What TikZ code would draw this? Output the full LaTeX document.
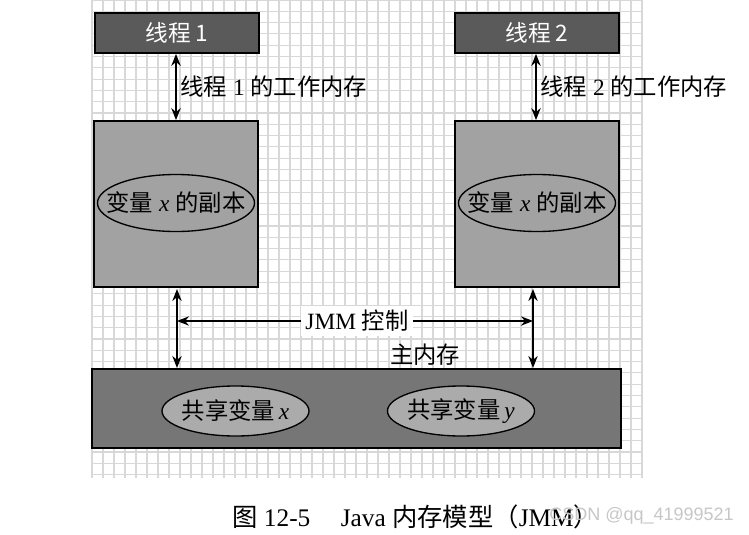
\documentclass[tikz,border=0pt]{standalone}
\usepackage{fontspec}
\setmainfont{Liberation Serif}
\newfontfamily\cjk{Noto Sans CJK SC}
\newfontfamily\wmfont{Liberation Sans}
\usetikzlibrary{arrows.meta,shapes.geometric}
\definecolor{threadgray}{HTML}{5A5A5A}
\definecolor{workgray}{HTML}{A2A2A2}
\definecolor{maingray}{HTML}{767676}
\definecolor{ellgray}{HTML}{ABABAB}
\definecolor{gridgray}{HTML}{D8D8D8}
\tikzset{
  threadbox/.style={draw=black,line width=1.3pt,fill=threadgray,text=white,minimum width=164*0.75pt,minimum height=40*0.75pt,inner sep=0pt,font=\cjk\fontsize{17}{19}\selectfont},
  workbox/.style={draw=black,line width=1.3pt,fill=workgray,minimum width=164*0.75pt,minimum height=166*0.75pt,inner sep=0pt},
  mainbox/.style={draw=black,line width=1.3pt,fill=maingray,minimum width=529*0.75pt,minimum height=79*0.75pt,inner sep=0pt},
  copyell/.style={ellipse,draw=black,line width=1pt,fill=workgray,minimum width=157*0.75pt,minimum height=57*0.75pt,inner sep=0pt},
  sharedell/.style={ellipse,draw=black,line width=1pt,fill=ellgray,minimum width=147*0.75pt,minimum height=50*0.75pt,inner sep=0pt},
  elltext/.style={inner sep=0pt,font=\fontsize{17.5}{19}\selectfont},
  lbl/.style={inner sep=1pt,font=\fontsize{17.5}{19}\selectfont},
  dbl/.style={{Stealth[length=9pt,width=7pt]}-{Stealth[length=9pt,width=7pt]},line width=1.2pt},
  sgl/.style={-{Stealth[length=9pt,width=7pt]},line width=1.2pt},
}
\begin{document}
\begin{tikzpicture}[x=0.75pt,y=-0.75pt]
\useasboundingbox (0,0) rectangle (749,535);
\fill[white] (0,0) rectangle (749,535);
% grid
\foreach \gx in {0,...,50} {\draw[gridgray,line width=0.8pt] (92+\gx*11,0) -- (92+\gx*11,478);}
\foreach \gy in {0,...,42} {\draw[gridgray,line width=0.8pt] (92,\gy*11.3) -- (642,\gy*11.3);}
% thread boxes
\node[threadbox] (t1) at (177,33) {线程 1};
\node[threadbox] (t2) at (537,33) {线程 2};
% working memory boxes
\node[workbox] (w1) at (176,204) {};
\node[workbox] (w2) at (537,204) {};
\node[copyell] (e1) at (176,203) {};
\node[copyell] (e2) at (537,203) {};
\node[elltext] (e1t) at (e1) {{\cjk 变量} \textit{x} {\cjk 的副本}};
\node[elltext] (e2t) at (e2) {{\cjk 变量} \textit{x} {\cjk 的副本}};
% main memory
\node[mainbox] (m) at (356.5,408.5) {};
\node[sharedell] (s1) at (235.5,411) {};
\node[sharedell] (s2) at (461,411) {};
\node[elltext] (s1t) at (s1) {{\cjk 共享变量}\,\textit{x}};
\node[elltext] (s2t) at (s2) {{\cjk 共享变量}\,\textit{y}};
% thread <-> working memory arrows
\draw[dbl] (t1.south -| 176,0) -- (w1.north -| 176,0);
\draw[dbl] (t2.south -| 536,0) -- (w2.north -| 536,0);
\node[lbl,anchor=west] (l1) at (179,87) {{\cjk 线程} 1 {\cjk 的工作内存}};
\node[lbl,anchor=west] (l2) at (539,87) {{\cjk 线程} 2 {\cjk 的工作内存}};
% working memory <-> main memory
\coordinate (v1t) at (177,289);
\coordinate (v1b) at (177,368);
\coordinate (v2t) at (533,289);
\coordinate (v2b) at (533,368);
\draw[dbl] (v1t) -- (v1b);
\draw[dbl] (v2t) -- (v2b);
\coordinate (jl) at (177,321);
\coordinate (jr) at (533,321);
\node[lbl,fill=white,inner sep=3pt] (jmm) at (357,321) {JMM {\cjk 控制}};
\draw[sgl] (jmm) -- (jl);
\draw[sgl] (jmm) -- (jr);
\node[lbl] (mm) at (425,355) {\cjk 主内存};
% caption
\node[anchor=west,inner sep=0pt,font=\fontsize{19}{21}\selectfont] (cap) at (232,517) {{\cjk 图} 12-5\hspace{1.2em}Java {\cjk 内存模型（}JMM{\cjk ）}};
\node[anchor=west,inner sep=0pt,text=black!22,font=\wmfont\fontsize{13.5}{15}\selectfont] (wm) at (549,516) {CSDN @qq\_41999521};
\end{tikzpicture}
\end{document}
